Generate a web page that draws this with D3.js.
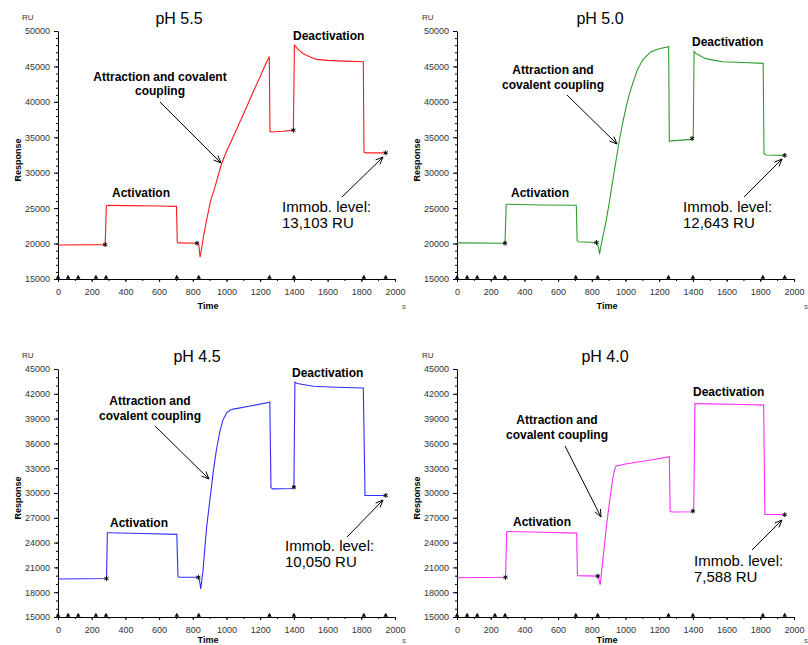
<!DOCTYPE html>
<html>
<head>
<meta charset="utf-8">
<script src="https://cdn.jsdelivr.net/npm/d3@7"></script>
<style>
  body { margin: 0; background: #fff; }
  svg { display: block; font-family: "Liberation Sans", Arial, sans-serif; }
</style>
</head>
<body>
<svg id="chart" width="808" height="645"></svg>
<script>
// immobilization sensorgrams at four pH values

var phLabels = ["pH 5.5", "pH 5.0", "pH 4.5", "pH 4.0"];
var immobLevels = ["13,103 RU", "12,643 RU", "10,050 RU", "7,588 RU"];
var yDomains = [[15000, 50000], [15000, 50000], [15000, 45000], [15000, 45000]];
var yTickSteps = [5000, 5000, 3000, 3000];
var lineColors = ["#ff1a1a", "#2c9c2c", "#2f2fff", "#ff2bff"];

var time55 = [0, 280, 287, 295, 400, 600, 703, 708, 715, 825, 835, 843, 850, 865, 882, 905, 932, 971, 1000, 1041, 1080, 1120, 1160, 1199, 1230, 1254, 1258, 1270, 1330, 1397, 1403, 1420, 1456, 1500, 1535, 1600, 1700, 1812, 1816, 1830, 1945];
var ru55 = [19800, 19850, 25300, 25400, 25350, 25300, 25250, 20200, 20100, 20050, 19900, 18100, 19000, 21200, 23300, 26000, 28000, 31300, 33000, 35100, 37200, 39300, 41500, 43500, 45200, 46400, 35800, 35750, 35850, 36000, 48000, 47500, 46800, 46300, 46000, 45850, 45750, 45650, 32900, 32800, 32800];

var time50 = [0, 285, 292, 300, 500, 708, 713, 720, 828, 840, 846, 855, 870, 886, 905, 925, 945, 964, 984, 1004, 1023, 1043, 1070, 1102, 1130, 1152, 1200, 1256, 1260, 1275, 1390, 1402, 1407, 1420, 1450, 1478, 1530, 1576, 1700, 1817, 1822, 1835, 1945];
var ru50 = [20100, 20050, 25500, 25550, 25450, 25400, 20400, 20250, 20150, 19500, 18500, 19800, 21500, 23300, 26000, 28970, 31900, 34620, 37100, 39300, 41100, 42600, 44500, 45900, 46600, 47080, 47500, 47780, 34400, 34500, 34700, 35000, 47100, 46800, 46400, 46100, 45850, 45670, 45550, 45430, 32700, 32500, 32450];

var time45 = [0, 288, 293, 300, 500, 705, 712, 720, 833, 840, 847, 860, 882, 900, 922, 940, 961, 980, 1001, 1020, 1041, 1150, 1257, 1264, 1275, 1387, 1400, 1406, 1420, 1515, 1650, 1812, 1822, 1945];
var ru45 = [19600, 19650, 25200, 25200, 25100, 25000, 19900, 19800, 19800, 19400, 18400, 20500, 25840, 28900, 32670, 35200, 37490, 38900, 39700, 40000, 40150, 40550, 40990, 30650, 30500, 30550, 30700, 43400, 43250, 42910, 42800, 42710, 29700, 29700];

var time40 = [0, 288, 295, 300, 500, 710, 715, 836, 842, 850, 860, 886, 905, 925, 935, 945, 1000, 1150, 1260, 1265, 1275, 1398, 1405, 1412, 1500, 1700, 1820, 1827, 1945];
var ru40 = [19750, 19800, 25300, 25350, 25250, 25150, 20000, 19950, 19500, 18900, 20800, 25840, 28900, 31870, 32800, 33280, 33500, 34000, 34400, 27800, 27700, 27730, 28000, 40830, 40780, 40700, 40630, 27400, 27380];

var seriesTimes = [time55, time50, time45, time40];
var seriesRU = [ru55, ru50, ru45, ru40];

// report points (x marks on the curve) and injection marks on the time axis
var reportTimes = [[280, 825, 1397, 1945], [285, 828, 1395, 1945], [288, 833, 1400, 1945], [288, 836, 1400, 1945]];
var injectionTimes = [0, 60, 120, 225, 285, 705, 835, 1255, 1400, 1815, 1945];

// annotation layout inside each panel (panel-relative pixels)
var layouts = [
  { title: 179, deact: [293, 40], attr: [160, 81, 95], attrLines: ["Attraction and covalent", "coupling"],
    arrow1: [160, 102, 221, 163], act: [112, 197], immob: [282, 212, 228], arrow2: [342, 197, 383, 157] },
  { title: 201, deact: [293, 46], attr: [154, 74, 89], attrLines: ["Attraction and", "covalent coupling"],
    arrow1: [168, 95, 218, 144], act: [112, 197], immob: [284, 212, 228], arrow2: [345, 197, 383, 159] },
  { title: 197, deact: [292, 39], attr: [150, 67, 82], attrLines: ["Attraction and", "covalent coupling"],
    arrow1: [155, 88, 209, 141], act: [110, 189], immob: [285, 213, 229], arrow2: [347, 199, 383, 162] },
  { title: 206, deact: [294, 58], attr: [158, 86, 101], attrLines: ["Attraction and", "covalent coupling"],
    arrow1: [166, 108, 202, 179], act: [114, 188], immob: [295, 228, 244], arrow2: [353, 212, 383, 182] }
];

var svg = d3.select("#chart");
var plotLeft = 58, plotRight = 395, plotTop = 31, plotBottom = 279;

function arrow(g, a) {
  var x1 = a[0], y1 = a[1], x2 = a[2], y2 = a[3];
  var ang = Math.atan2(y2 - y1, x2 - x1), len = 8, spread = 0.4;
  g.append("line").attr("x1", x1).attr("y1", y1).attr("x2", x2).attr("y2", y2)
    .attr("stroke", "#000").attr("stroke-width", 1);
  [-spread, spread].forEach(function(s) {
    g.append("line").attr("x1", x2).attr("y1", y2)
      .attr("x2", x2 - len * Math.cos(ang + s)).attr("y2", y2 - len * Math.sin(ang + s))
      .attr("stroke", "#000").attr("stroke-width", 1);
  });
}

phLabels.forEach(function(label, i) {
  var col = i % 2, row = Math.floor(i / 2);
  var lay = layouts[i];
  var g = svg.append("g").attr("transform", "translate(" + (col * 399) + "," + (row * 338) + ")");

  var x = d3.scaleLinear().domain([0, 2000]).range([plotLeft, plotRight]);
  var y = d3.scaleLinear().domain(yDomains[i]).range([plotBottom, plotTop]);

  var yMajor = d3.range(yDomains[i][0], yDomains[i][1] + 1, yTickSteps[i]);
  var yMinor = d3.range(yDomains[i][0], yDomains[i][1] + 1, 1000);

  // y axis
  g.append("g").attr("transform", "translate(" + plotLeft + ",0)")
    .call(d3.axisLeft(y).tickValues(yMinor).tickSize(2).tickFormat(""))
    .call(function(a) { a.select(".domain").remove(); });
  var ya = g.append("g").attr("transform", "translate(" + plotLeft + ",0)")
    .call(d3.axisLeft(y).tickValues(yMajor).tickSize(4).tickPadding(4).tickSizeOuter(0).tickFormat(d3.format("d")));
  ya.selectAll("text").attr("font-size", 9).attr("fill", "#333").attr("font-family", "Liberation Sans, Arial, sans-serif");

  // x axis
  g.append("g").attr("transform", "translate(0," + plotBottom + ")")
    .call(d3.axisBottom(x).tickValues(d3.range(0, 2001, 100)).tickSize(2).tickFormat(""))
    .call(function(a) { a.select(".domain").remove(); });
  var xa = g.append("g").attr("transform", "translate(0," + plotBottom + ")")
    .call(d3.axisBottom(x).tickValues(d3.range(0, 2001, 200)).tickSize(3).tickPadding(7).tickSizeOuter(0).tickFormat(d3.format("d")));
  xa.selectAll("text").attr("font-size", 9).attr("fill", "#333").attr("font-family", "Liberation Sans, Arial, sans-serif");

  // injection marks on the time axis
  g.selectAll(".inj").data(injectionTimes).enter().append("path")
    .attr("d", d3.symbol(d3.symbolTriangle, 9))
    .attr("transform", function(d) { return "translate(" + x(d) + "," + (plotBottom - 1.5) + ")"; })
    .attr("fill", "#000");

  // sensorgram
  var pts = seriesTimes[i].map(function(t, k) { return [t, seriesRU[i][k]]; });
  g.append("path").datum(pts)
    .attr("d", d3.line().x(function(d) { return x(d[0]); }).y(function(d) { return y(d[1]); }))
    .attr("fill", "none").attr("stroke", lineColors[i]).attr("stroke-width", 1.1);

  // report points
  var bis = d3.bisector(function(d) { return d[0]; }).left;
  reportTimes[i].forEach(function(t) {
    var k = Math.max(1, Math.min(pts.length - 1, bis(pts, t)));
    var a = pts[k - 1], b = pts[k];
    var v = a[1] + (b[1] - a[1]) * (t - a[0]) / ((b[0] - a[0]) || 1);
    g.append("path").attr("d", d3.symbol(d3.symbolAsterisk, 16))
      .attr("transform", "translate(" + x(t) + "," + y(v) + ")")
      .attr("fill", "none").attr("stroke", "#000").attr("stroke-width", 1);
  });

  // labels
  var timeY = row ? 305 : 309;
  g.append("text").attr("x", lay.title).attr("y", 24).attr("text-anchor", "middle")
    .attr("font-size", 16).text(label);
  g.append("text").attr("x", 22 + col).attr("y", 20).attr("font-size", 8).attr("fill", "#333").text("RU");
  g.append("text").attr("transform", "translate(21,160) rotate(-90)").attr("text-anchor", "middle")
    .attr("font-size", 9).attr("font-weight", "bold").text("Response");
  g.append("text").attr("x", 208).attr("y", timeY).attr("text-anchor", "middle")
    .attr("font-size", 9).attr("font-weight", "bold").text("Time");
  g.append("text").attr("x", 402 + col * 3).attr("y", timeY).attr("font-size", 8).attr("fill", "#555").text("s");

  g.append("text").attr("x", lay.deact[0]).attr("y", lay.deact[1])
    .attr("font-size", 12).attr("font-weight", "bold").text("Deactivation");
  g.append("text").attr("x", lay.act[0]).attr("y", lay.act[1])
    .attr("font-size", 12).attr("font-weight", "bold").text("Activation");
  lay.attrLines.forEach(function(s, k) {
    g.append("text").attr("x", lay.attr[0]).attr("y", lay.attr[1 + k]).attr("text-anchor", "middle")
      .attr("font-size", 12).attr("font-weight", "bold").text(s);
  });
  g.append("text").attr("x", lay.immob[0]).attr("y", lay.immob[1]).attr("font-size", 15).text("Immob. level:");
  g.append("text").attr("x", lay.immob[0]).attr("y", lay.immob[2]).attr("font-size", 15).text(immobLevels[i]);

  arrow(g, lay.arrow1);
  arrow(g, lay.arrow2);
});
</script>
</body>
</html>
